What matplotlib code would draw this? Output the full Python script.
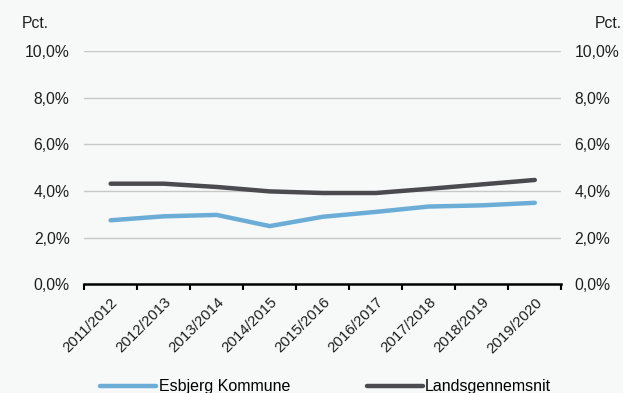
import numpy as np
import matplotlib.pyplot as plt
from matplotlib.ticker import FuncFormatter

# school years and rates (pct.)
years = ["2011/2012", "2012/2013", "2013/2014", "2014/2015", "2015/2016",
         "2016/2017", "2017/2018", "2018/2019", "2019/2020"]
esbjerg = [2.74, 2.91, 2.97, 2.49, 2.89, 3.10, 3.33, 3.38, 3.49]
lands = [4.31, 4.31, 4.17, 3.98, 3.91, 3.91, 4.09, 4.28, 4.47]
yticks = [0, 2, 4, 6, 8, 10]

plt.rcParams['font.family'] = ['Liberation Sans', 'DejaVu Sans']
bg = '#f7f8f8'
txt = '#1e1e1e'

fig = plt.figure(figsize=(6.23, 3.93), dpi=100, facecolor=bg)
ax = fig.add_axes([0.135, 0.277, 0.766, 0.593], facecolor=bg)

x = np.arange(len(years))
ax.plot(x, esbjerg, color='#6badd6', lw=3.2, solid_capstyle='round',
        label='Esbjerg Kommune')
ax.plot(x, lands, color='#4b4b4f', lw=3.2, solid_capstyle='round',
        label='Landsgennemsnit')

ax.set_xlim(-0.5, len(years) - 0.5)
ax.set_ylim(0, 10)
ax.set_yticks(yticks)
fmt = FuncFormatter(lambda v, p: "{:.1f}%".format(v).replace('.', ','))
ax.yaxis.set_major_formatter(fmt)
ax.yaxis.grid(True, color='#c8c8c8', lw=1)
ax.set_axisbelow(True)
ax.tick_params(axis='y', length=0, labelsize=11.3, pad=10.5, colors=txt)

ax.set_xticks(x)
ax.set_xticklabels(years, rotation=45, ha='right', rotation_mode='anchor',
                   fontsize=10.8, color=txt)
ax.tick_params(axis='x', length=0, pad=8)
ax.set_xticks(np.arange(len(years) + 1) - 0.5, minor=True)
ax.tick_params(axis='x', which='minor', length=4, width=1.5, color='black')

for s in ['top', 'left', 'right']:
    ax.spines[s].set_visible(False)
ax.spines['bottom'].set_linewidth(1.8)

ax2 = ax.twinx()
ax2.set_ylim(ax.get_ylim())
ax2.set_yticks(yticks)
ax2.yaxis.set_major_formatter(fmt)
ax2.tick_params(axis='y', length=0, labelsize=11.3, pad=9.5, colors=txt)
for s in ax2.spines.values():
    s.set_visible(False)

fig.text(0.035, 0.941, "Pct.", fontsize=11.3, color=txt, va='center')
fig.text(0.955, 0.941, "Pct.", fontsize=11.3, color=txt, va='center')

fig.legend(loc='lower center', bbox_to_anchor=(0.523, -0.04), ncol=2,
           frameon=False, fontsize=11.5, handlelength=3.5, handletextpad=0.15,
           columnspacing=4.8)

fig.savefig("out.png", dpi=100, facecolor=bg)
